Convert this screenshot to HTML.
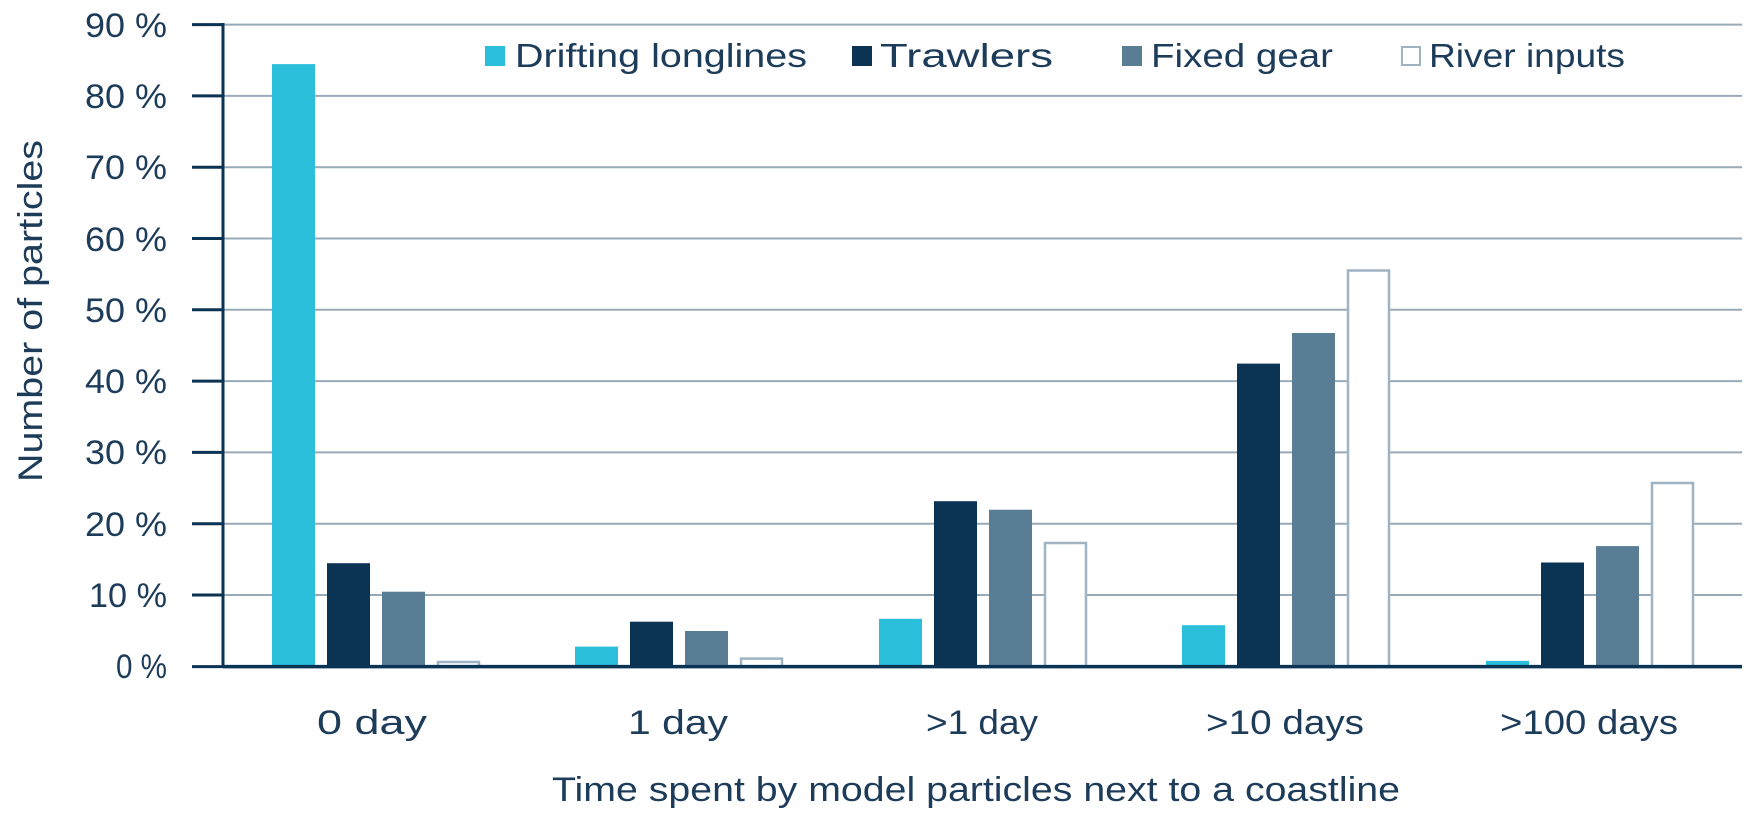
<!DOCTYPE html>
<html><head><meta charset="utf-8"><style>
html,body{margin:0;padding:0;background:#fff;}
svg{display:block;}
text{font-family:"Liberation Sans",sans-serif;fill:#1d3c5a;}
</style></head><body>
<svg width="1759" height="828" viewBox="0 0 1759 828" xmlns="http://www.w3.org/2000/svg">
<g stroke="#98a9b7" stroke-width="2">
<line x1="223" x2="1742" y1="24.6" y2="24.6"/>
<line x1="223" x2="1742" y1="95.9" y2="95.9"/>
<line x1="223" x2="1742" y1="167.2" y2="167.2"/>
<line x1="223" x2="1742" y1="238.5" y2="238.5"/>
<line x1="223" x2="1742" y1="309.8" y2="309.8"/>
<line x1="223" x2="1742" y1="381.1" y2="381.1"/>
<line x1="223" x2="1742" y1="452.4" y2="452.4"/>
<line x1="223" x2="1742" y1="523.7" y2="523.7"/>
<line x1="223" x2="1742" y1="595" y2="595"/>
</g>
<g stroke="#0b3354" stroke-width="3">
<line x1="192" x2="223" y1="24.6" y2="24.6"/>
<line x1="192" x2="223" y1="95.9" y2="95.9"/>
<line x1="192" x2="223" y1="167.2" y2="167.2"/>
<line x1="192" x2="223" y1="238.5" y2="238.5"/>
<line x1="192" x2="223" y1="309.8" y2="309.8"/>
<line x1="192" x2="223" y1="381.1" y2="381.1"/>
<line x1="192" x2="223" y1="452.4" y2="452.4"/>
<line x1="192" x2="223" y1="523.7" y2="523.7"/>
<line x1="192" x2="223" y1="595" y2="595"/>
<line x1="223" x2="223" y1="23" y2="668"/>
</g>
<g font-size="34" text-anchor="end" lengthAdjust="spacingAndGlyphs">
<text x="167" y="37" textLength="82" lengthAdjust="spacingAndGlyphs">90 %</text>
<text x="167" y="108" textLength="82" lengthAdjust="spacingAndGlyphs">80 %</text>
<text x="167" y="179" textLength="82" lengthAdjust="spacingAndGlyphs">70 %</text>
<text x="167" y="251" textLength="82" lengthAdjust="spacingAndGlyphs">60 %</text>
<text x="167" y="322" textLength="82" lengthAdjust="spacingAndGlyphs">50 %</text>
<text x="167" y="393" textLength="82" lengthAdjust="spacingAndGlyphs">40 %</text>
<text x="167" y="464" textLength="82" lengthAdjust="spacingAndGlyphs">30 %</text>
<text x="167" y="536" textLength="82" lengthAdjust="spacingAndGlyphs">20 %</text>
<text x="167" y="607" textLength="78" lengthAdjust="spacingAndGlyphs">10 %</text>
<text x="167" y="678" textLength="51" lengthAdjust="spacingAndGlyphs">0 %</text>
</g>
<g>
<rect x="272" y="64.1" width="43" height="602.5" fill="#2bbfdc"/>
<rect x="327" y="563.2" width="43" height="103.4" fill="#0b3354"/>
<rect x="382" y="591.7" width="43" height="74.9" fill="#5a7d96"/>
<rect x="438" y="662" width="41" height="4.6" fill="#fff" stroke="#9fb3c3" stroke-width="2.5"/>
<rect x="575" y="646.6" width="43" height="20" fill="#2bbfdc"/>
<rect x="630" y="621.7" width="43" height="44.9" fill="#0b3354"/>
<rect x="685" y="631" width="43" height="35.6" fill="#5a7d96"/>
<rect x="741" y="658.6" width="41" height="8" fill="#fff" stroke="#9fb3c3" stroke-width="2.5"/>
<rect x="879" y="618.8" width="43" height="47.8" fill="#2bbfdc"/>
<rect x="934" y="501.2" width="43" height="165.4" fill="#0b3354"/>
<rect x="989" y="509.7" width="43" height="156.9" fill="#5a7d96"/>
<rect x="1045" y="543" width="41" height="123.6" fill="#fff" stroke="#9fb3c3" stroke-width="2.5"/>
<rect x="1182" y="625.2" width="43" height="41.4" fill="#2bbfdc"/>
<rect x="1237" y="363.6" width="43" height="303" fill="#0b3354"/>
<rect x="1292" y="333" width="43" height="333.6" fill="#5a7d96"/>
<rect x="1348" y="270.5" width="41" height="396.1" fill="#fff" stroke="#9fb3c3" stroke-width="2.5"/>
<rect x="1486" y="660.9" width="43" height="5.7" fill="#2bbfdc"/>
<rect x="1541" y="562.5" width="43" height="104.1" fill="#0b3354"/>
<rect x="1596" y="546.1" width="43" height="120.5" fill="#5a7d96"/>
<rect x="1652" y="483" width="41" height="183.6" fill="#fff" stroke="#9fb3c3" stroke-width="2.5"/>
</g>
<line x1="223" x2="1742" y1="666.6" y2="666.6" stroke="#0b3354" stroke-width="3.5"/>
<line x1="192" x2="223" y1="666.6" y2="666.6" stroke="#0b3354" stroke-width="3"/>
<rect x="485" y="46" width="20" height="20" fill="#2bbfdc"/>
<text x="515" y="67" font-size="33" textLength="292" lengthAdjust="spacingAndGlyphs">Drifting longlines</text>
<rect x="852" y="46" width="20" height="20" fill="#0b3354"/>
<text x="880" y="67" font-size="33" textLength="173" lengthAdjust="spacingAndGlyphs">Trawlers</text>
<rect x="1122" y="46" width="20" height="20" fill="#5a7d96"/>
<text x="1151" y="67" font-size="33" textLength="182" lengthAdjust="spacingAndGlyphs">Fixed gear</text>
<rect x="1402" y="47" width="18" height="18" fill="#fff" stroke="#9fb3c3" stroke-width="2"/>
<text x="1429" y="67" font-size="33" textLength="196" lengthAdjust="spacingAndGlyphs">River inputs</text>
<g font-size="34" text-anchor="middle">
<text x="372" y="734" textLength="110" lengthAdjust="spacingAndGlyphs">0 day</text>
<text x="678" y="734" textLength="100" lengthAdjust="spacingAndGlyphs">1 day</text>
<text x="982" y="734" textLength="112" lengthAdjust="spacingAndGlyphs">&gt;1 day</text>
<text x="1285" y="734" textLength="158" lengthAdjust="spacingAndGlyphs">&gt;10 days</text>
<text x="1589" y="734" textLength="178" lengthAdjust="spacingAndGlyphs">&gt;100 days</text>
<text x="976" y="801" textLength="848" lengthAdjust="spacingAndGlyphs">Time spent by model particles next to a coastline</text>
<text transform="translate(42,311) rotate(-90)" textLength="342" lengthAdjust="spacingAndGlyphs">Number of particles</text>
</g>
</svg>
</body></html>
